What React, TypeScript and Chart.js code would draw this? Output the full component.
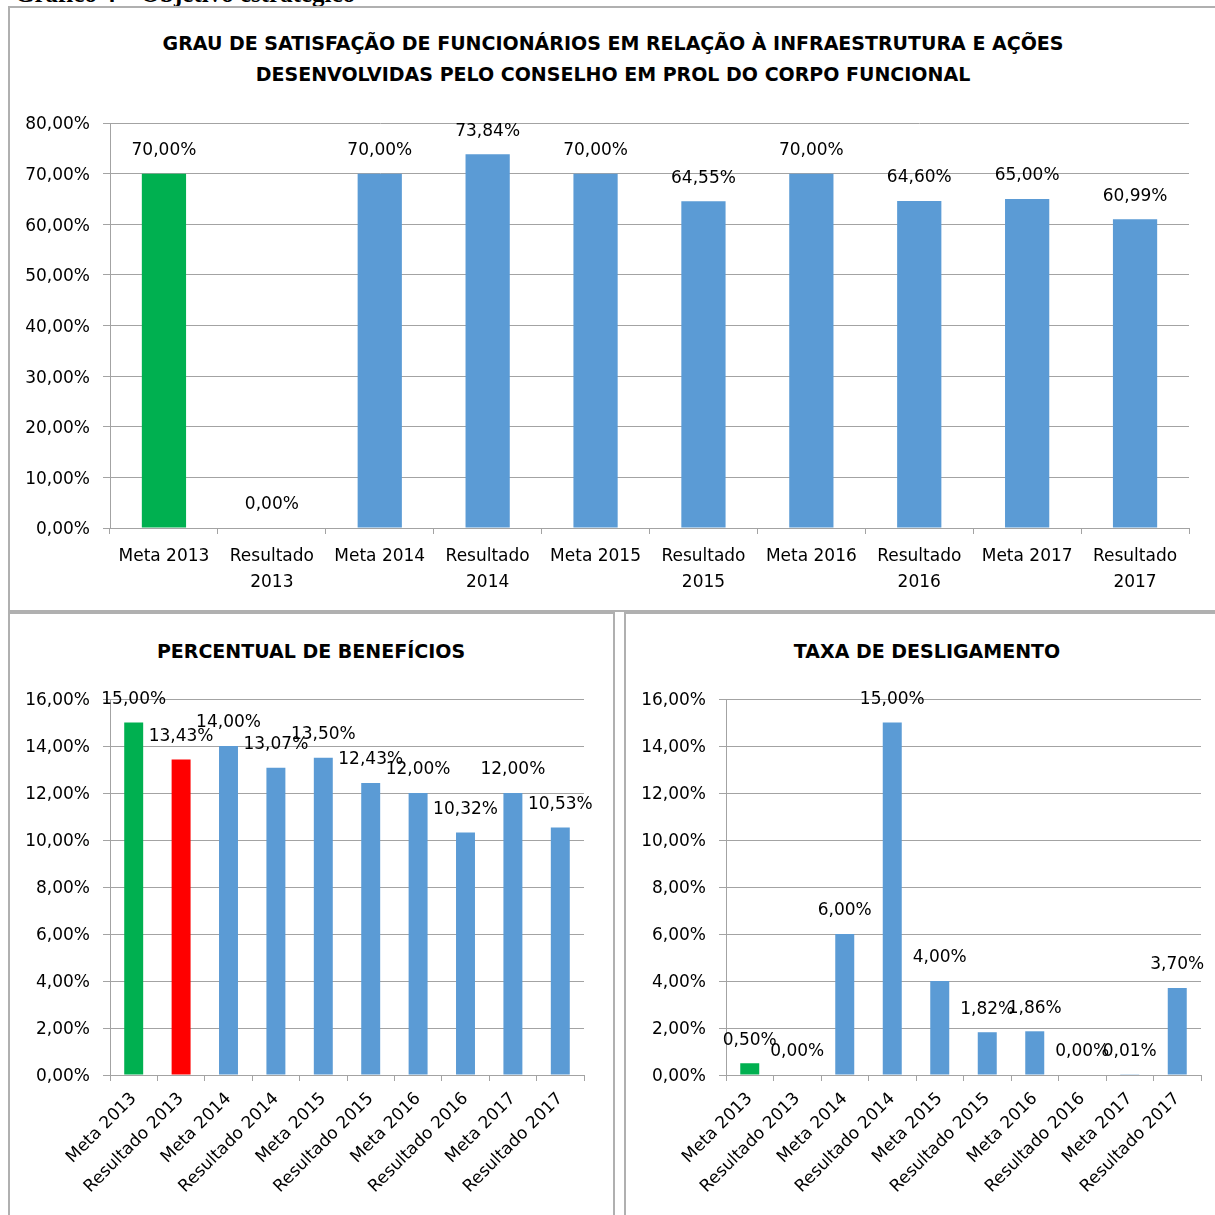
import React, { useEffect, useRef } from "react";
import { Chart, registerables } from "chart.js";

Chart.register(...registerables);

const categories = [
  "Meta 2013",
  "Resultado 2013",
  "Meta 2014",
  "Resultado 2014",
  "Meta 2015",
  "Resultado 2015",
  "Meta 2016",
  "Resultado 2016",
  "Meta 2017",
  "Resultado 2017",
];

const satisfacaoValues = [70, 0, 70, 73.84, 70, 64.55, 70, 64.6, 65, 60.99];
const beneficiosValues = [15, 13.43, 14, 13.07, 13.5, 12.43, 12, 10.32, 12, 10.53];
const desligamentoValues = [0.5, 0, 6, 15, 4, 1.82, 1.86, 0, 0.01, 3.7];

const satisfacaoTicks = [0, 10, 20, 30, 40, 50, 60, 70, 80];
const percentTicks = [0, 2, 4, 6, 8, 10, 12, 14, 16];

const GREEN = "#00B050";
const RED = "#FF0000";
const BLUE = "#5B9BD5";
const GRID = "#a3a3a3";
const FONT = '"DejaVu Sans", sans-serif';

const satisfacaoColors = categories.map((_, i) => (i === 0 ? GREEN : BLUE));
const beneficiosColors = categories.map((_, i) => (i === 0 ? GREEN : i === 1 ? RED : BLUE));
const desligamentoColors = categories.map((_, i) => (i === 0 ? GREEN : BLUE));

const fmt = (v: number) => v.toFixed(2).replace(".", ",") + "%";

const valueLabels = {
  id: "valueLabels",
  afterDatasetsDraw(chart: any) {
    const ctx = chart.ctx;
    const meta = chart.getDatasetMeta(0);
    const data = chart.data.datasets[0].data as number[];
    ctx.save();
    ctx.font = `17px ${FONT}`;
    ctx.fillStyle = "#000";
    ctx.textAlign = "center";
    ctx.textBaseline = "middle";
    meta.data.forEach((bar: any, i: number) => {
      ctx.fillText(fmt(data[i]), bar.x, bar.y - 23);
    });
    ctx.restore();
  },
};

type Cfg = {
  labels: any[];
  values: number[];
  colors: string[];
  ticks: number[];
  barPct: number;
  padding: { top: number; right: number; bottom: number; left: number };
  yWidth: number;
  xHeight: number;
  rotation: number;
  xPad: number;
};

function makeChart(canvas: HTMLCanvasElement, c: Cfg) {
  const max = c.ticks[c.ticks.length - 1];
  const step = c.ticks[1] - c.ticks[0];
  return new Chart(canvas, {
    type: "bar",
    data: {
      labels: c.labels,
      datasets: [
        {
          data: c.values,
          backgroundColor: c.colors,
          borderWidth: 0,
          barPercentage: c.barPct,
          categoryPercentage: 1,
        },
      ],
    },
    options: {
      responsive: false,
      animation: false,
      events: [],
      layout: { padding: c.padding },
      plugins: {
        legend: { display: false },
        title: { display: false },
        tooltip: { enabled: false },
      },
      scales: {
        x: {
          grid: {
            offset: true,
            drawOnChartArea: false,
            drawTicks: true,
            tickLength: 6,
            color: GRID,
          },
          border: { display: true, color: GRID, width: 1 },
          ticks: {
            autoSkip: false,
            maxRotation: c.rotation,
            minRotation: c.rotation,
            padding: c.xPad,
            color: "#000",
            font: { family: FONT, size: 17, lineHeight: 1.5 },
          },
          afterFit(scale: any) {
            scale.height = c.xHeight;
          },
        },
        y: {
          min: 0,
          max: max,
          grid: { color: GRID, tickLength: 7, lineWidth: 1 },
          border: { display: true, color: GRID, width: 1 },
          ticks: {
            stepSize: step,
            padding: 13,
            labelOffset: 2,
            color: "#000",
            font: { family: FONT, size: 17 },
            callback: (v: any) => fmt(Number(v)),
          },
          afterFit(scale: any) {
            scale.width = c.yWidth;
          },
        },
      },
    },
    plugins: [valueLabels],
  });
}

function ChartCanvas(props: { cfg: Cfg; left: number; top: number; width: number; height: number }) {
  const ref = useRef<HTMLCanvasElement | null>(null);
  useEffect(() => {
    if (!ref.current) return;
    const chart = makeChart(ref.current, props.cfg);
    return () => chart.destroy();
  }, []);
  return (
    <canvas
      ref={ref}
      width={props.width}
      height={props.height}
      style={{
        position: "absolute",
        left: props.left,
        top: props.top,
        width: props.width,
        height: props.height,
      }}
    />
  );
}

const titleStyle: React.CSSProperties = {
  position: "absolute",
  fontFamily: FONT,
  fontWeight: "bold",
  fontSize: 19,
  lineHeight: "31px",
  textAlign: "center",
  color: "#000",
  whiteSpace: "nowrap",
};

export default function App() {
  const topCfg: Cfg = {
    labels: categories.map((c) => (c.startsWith("Resultado") ? c.split(" ") : c)),
    values: satisfacaoValues,
    colors: satisfacaoColors,
    ticks: satisfacaoTicks,
    barPct: 0.41,
    padding: { top: 115, right: 26, bottom: 11, left: 0 },
    yWidth: 101,
    xHeight: 70,
    rotation: 0,
    xPad: 10,
  };
  const benCfg: Cfg = {
    labels: categories,
    values: beneficiosValues,
    colors: beneficiosColors,
    ticks: percentTicks,
    barPct: 0.4,
    padding: { top: 84, right: 28, bottom: 10, left: 0 },
    yWidth: 101,
    xHeight: 130,
    rotation: 45,
    xPad: 6,
  };
  const desCfg: Cfg = {
    labels: categories,
    values: desligamentoValues,
    colors: desligamentoColors,
    ticks: percentTicks,
    barPct: 0.4,
    padding: { top: 84, right: 14, bottom: 10, left: 0 },
    yWidth: 100,
    xHeight: 130,
    rotation: 45,
    xPad: 6,
  };

  return (
    <div
      style={{
        position: "fixed",
        left: 0,
        top: 0,
        width: 1215,
        height: 1215,
        overflow: "hidden",
        background: "#fff",
      }}
    >
      <div
        style={{
          position: "absolute",
          left: 15,
          top: -20,
          fontFamily: '"Liberation Serif", serif',
          fontWeight: "bold",
          fontSize: 25,
          whiteSpace: "nowrap",
          color: "#000",
        }}
      >
        Gráfico 4 – Objetivo estratégico
      </div>
      <div
        style={{
          position: "absolute",
          left: 8,
          top: 6,
          width: 1230,
          height: 602,
          border: "2px solid #b0b0b0",
        }}
      />
      <div
        style={{
          position: "absolute",
          left: 8,
          top: 612,
          width: 603,
          height: 640,
          border: "2px solid #b0b0b0",
        }}
      />
      <div
        style={{
          position: "absolute",
          left: 624,
          top: 612,
          width: 640,
          height: 640,
          border: "2px solid #b0b0b0",
        }}
      />
      <div style={{ ...titleStyle, left: 0, width: 1226, top: 28 }}>
        GRAU DE SATISFAÇÃO DE FUNCIONÁRIOS EM RELAÇÃO À INFRAESTRUTURA E AÇÕES
        <br />
        DESENVOLVIDAS PELO CONSELHO EM PROL DO CORPO FUNCIONAL
      </div>
      <div style={{ ...titleStyle, left: 11, width: 600, top: 636 }}>PERCENTUAL DE BENEFÍCIOS</div>
      <div style={{ ...titleStyle, left: 627, width: 600, top: 636 }}>TAXA DE DESLIGAMENTO</div>
      <ChartCanvas cfg={topCfg} left={9} top={8} width={1206} height={601} />
      <ChartCanvas cfg={benCfg} left={9} top={615} width={603} height={600} />
      <ChartCanvas cfg={desCfg} left={626} top={615} width={589} height={600} />
    </div>
  );
}
